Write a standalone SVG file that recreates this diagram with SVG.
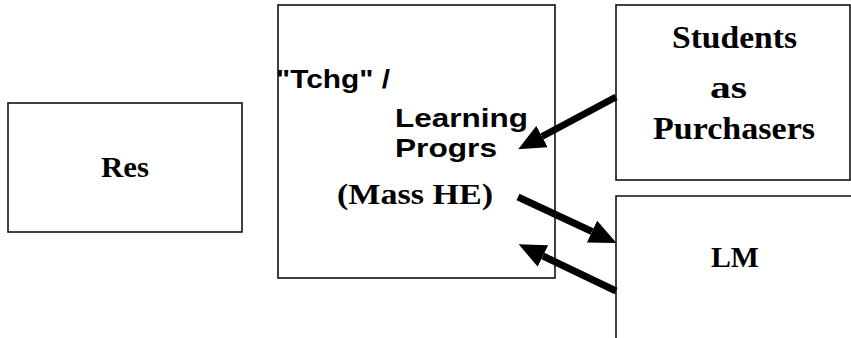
<svg xmlns="http://www.w3.org/2000/svg" width="851" height="338" viewBox="0 0 851 338">
<style>
.box{fill:#fff;stroke:#111;stroke-width:1.6}
.serif{font-family:"Liberation Serif","Times New Roman",serif;font-weight:bold;fill:#000}
.sans{font-family:"Liberation Sans",Arial,sans-serif;font-weight:bold;fill:#000}
.arr{stroke:#000;stroke-width:7;fill:none;marker-end:url(#head)}
</style>
<defs>
<marker id="head" markerUnits="userSpaceOnUse" markerWidth="28" markerHeight="24" refX="0" refY="12" orient="auto">
<path d="M0,0 L27,12 L0,24 Z" fill="#000"/>
</marker>
</defs>
<rect width="851" height="338" fill="#fff"/>
<g id="res">
<rect class="box" x="8" y="103" width="234" height="129"/>
<text class="serif" x="101" y="177" font-size="30" textLength="48" lengthAdjust="spacingAndGlyphs">Res</text>
</g>
<g id="teaching">
<rect class="box" x="278" y="5" width="277" height="273"/>
<text class="sans" x="276" y="88" font-size="26" textLength="114" lengthAdjust="spacingAndGlyphs">"Tchg" /</text>
<text class="sans" x="395" y="127" font-size="26" textLength="133" lengthAdjust="spacingAndGlyphs">Learning</text>
<text class="sans" x="395" y="157" font-size="26" textLength="102" lengthAdjust="spacingAndGlyphs">Progrs</text>
<text class="serif" x="337" y="204" font-size="29" textLength="156" lengthAdjust="spacingAndGlyphs">(Mass HE)</text>
</g>
<g id="students">
<rect class="box" x="616" y="5" width="234" height="175"/>
<text class="serif" x="672" y="48" font-size="31" textLength="125" lengthAdjust="spacingAndGlyphs">Students</text>
<text class="serif" x="710" y="98" font-size="31" textLength="37" lengthAdjust="spacingAndGlyphs">as</text>
<text class="serif" x="653" y="139" font-size="31" textLength="162" lengthAdjust="spacingAndGlyphs">Purchasers</text>
</g>
<g id="lm">
<path class="box" d="M616,340 L616,196 L851,196"/>
<text class="serif" x="711" y="267" font-size="29" textLength="48" lengthAdjust="spacingAndGlyphs">LM</text>
</g>
<g id="connectors">
<path class="arr" d="M616,97 L542,136.5"/>
<path class="arr" d="M518,197 L592,231.5"/>
<path class="arr" d="M616,291 L543,256"/>
</g>
</svg>
